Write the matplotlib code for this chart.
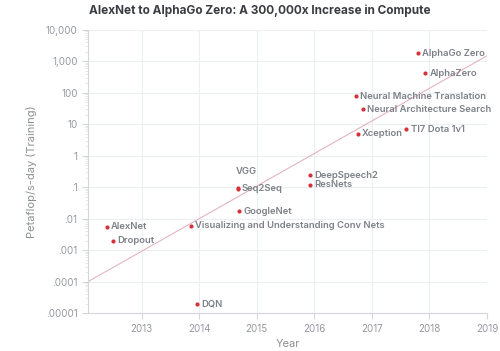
import matplotlib
matplotlib.use("Agg")
import matplotlib.pyplot as plt
from matplotlib.ticker import FixedLocator, LogLocator, NullFormatter
import numpy as np

plt.rcParams['font.family'] = ['Inter', 'DejaVu Sans']

# data
models = ['AlexNet', 'Dropout', 'Visualizing and Understanding Conv Nets', 'DQN',
          'Seq2Seq', 'VGG', 'GoogleNet', 'DeepSpeech2', 'ResNets', 'Xception',
          'TI7 Dota 1v1', 'Neural Machine Translation', 'Neural Architecture Search',
          'AlphaZero', 'AlphaGo Zero']
years = [2012.40, 2012.50, 2013.86, 2013.96,
         2014.67, 2014.68, 2014.70, 2015.93, 2015.93, 2016.76,
         2017.60, 2016.73, 2016.85,
         2017.93, 2017.80]
compute = [0.0055, 0.002, 0.0059, 0.000019,
           0.09, 0.095, 0.017, 0.24, 0.12, 5.0,
           6.9, 78, 30,
           410, 1800]

trend_years = [2012.07, 2019.0]
trend_compute = [0.0001, 1500]

ytick_vals = [1e-5, 1e-4, 1e-3, 1e-2, 1e-1, 1, 10, 100, 1000, 10000]
ytick_labels = ['.00001', '.0001', '.001', '.01', '.1', '1', '10', '100', '1,000', '10,000']
xtick_vals = [2013, 2014, 2015, 2016, 2017, 2018, 2019]

fig = plt.figure(figsize=(5, 3.51), dpi=100)
ax = fig.add_axes([0.176, 0.108, 0.798, 0.807])

ax.plot(trend_years, trend_compute, color='#e4b4c0', lw=0.8, zorder=2)
ax.scatter(years, compute, s=9, color='#d3323d', zorder=3, linewidths=0)

for name, x, y in zip(models, years, compute):
    if name == 'VGG':
        off = (-2, 12)
    else:
        off = (3, 0)
    ax.annotate(name, (x, y), xytext=off, textcoords='offset points',
                ha='left', va='center', fontsize=6.8, fontweight='semibold',
                color='#7d8088', zorder=4)

ax.set_yscale('log')
ax.set_xlim(2012.07, 2019.0)
ax.set_ylim(1e-5, 1e4)
ax.set_xticks(xtick_vals)
ax.set_xticklabels([str(v) for v in xtick_vals])
ax.yaxis.set_major_locator(FixedLocator(ytick_vals))
ax.set_yticklabels(ytick_labels)
ax.yaxis.set_minor_locator(LogLocator(base=10, subs=np.arange(2, 10), numticks=20))
ax.yaxis.set_minor_formatter(NullFormatter())

ax.grid(True, which='major', color='#eceef2', lw=0.8)
ax.set_axisbelow(True)
for s in ['top', 'right']:
    ax.spines[s].set_visible(False)
for s in ['left', 'bottom']:
    ax.spines[s].set_color('#d4d6da')
    ax.spines[s].set_linewidth(0.8)
ax.tick_params(axis='both', which='major', colors='#d4d6da', labelcolor='#95989e',
               labelsize=7, length=4, width=0.8)
ax.tick_params(axis='y', which='minor', colors='#e2e4e7', length=2, width=0.6)

ax.set_ylabel('Petaflop/s-day (Training)', fontsize=8, color='#8c8f95', labelpad=6)
ax.set_xlabel('Year', fontsize=8, color='#8c8f95', labelpad=4)

fig.text(0.52, 0.968, 'AlexNet to AlphaGo Zero: A 300,000x Increase in Compute',
         ha='center', va='center', fontsize=8.5, fontweight='bold', color='#3a3c42')

fig.savefig('out.png', dpi=100, facecolor='white')
